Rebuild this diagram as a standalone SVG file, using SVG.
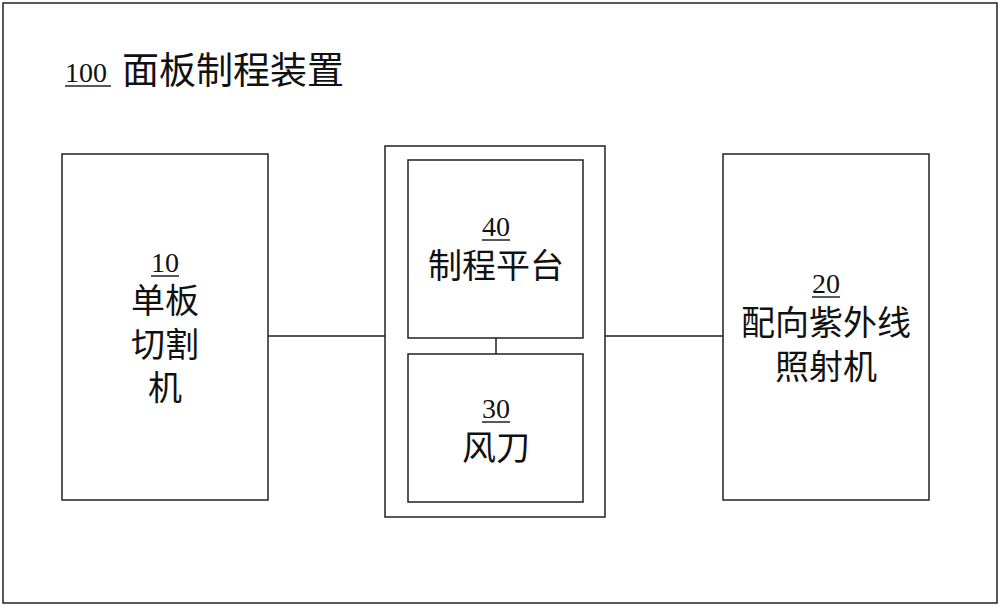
<svg xmlns="http://www.w3.org/2000/svg" width="1000" height="607" viewBox="0 0 1000 607">
<style>
rect{fill:none;stroke:#222;stroke-width:1.5}
text{font-family:"Liberation Serif","Noto Sans CJK SC",serif;font-size:28px;fill:#111}
.z{font-size:34px}
.c{text-anchor:middle}
line{stroke:#222;stroke-width:1.5}
</style>
<rect x="0" y="0" width="1000" height="607" style="fill:#fff;stroke:none"/>
<rect x="3" y="3" width="994" height="600"/>
<g id="title"><text x="65" y="82">100</text><line x1="65" y1="86" x2="111" y2="86"/><text x="122" y="84" style="font-size:37px">面板制程装置</text></g>
<g id="n10"><rect x="62" y="154" width="206" height="346"/>
<text class="c" x="165" y="272">10</text><line x1="151" y1="276" x2="179" y2="276"/>
<text class="c z" x="165" y="313">单板</text><text class="c z" x="165" y="357">切割</text><text class="c z" x="165" y="400">机</text></g>
<g id="n_mid"><rect x="385" y="146" width="220" height="371"/></g>
<g id="n40"><rect x="408" y="160" width="175" height="178"/>
<text class="c" x="496" y="236">40</text><line x1="482" y1="240" x2="510" y2="240"/>
<text class="c z" x="496" y="278">制程平台</text></g>
<g id="n30"><rect x="408" y="354" width="175" height="148"/>
<text class="c" x="496" y="418">30</text><line x1="482" y1="422" x2="510" y2="422"/>
<text class="c z" x="496" y="460">风刀</text></g>
<g id="n20"><rect x="723" y="154" width="206" height="346"/>
<text class="c" x="826" y="293">20</text><line x1="812" y1="297" x2="840" y2="297"/>
<text class="c z" x="826" y="335">配向紫外线</text><text class="c z" x="826" y="379">照射机</text></g>
<g id="connectors">
<line x1="268" y1="336" x2="385" y2="336"/>
<line x1="605" y1="336" x2="723" y2="336"/>
<line x1="496" y1="338" x2="496" y2="354"/>
</g>
</svg>
